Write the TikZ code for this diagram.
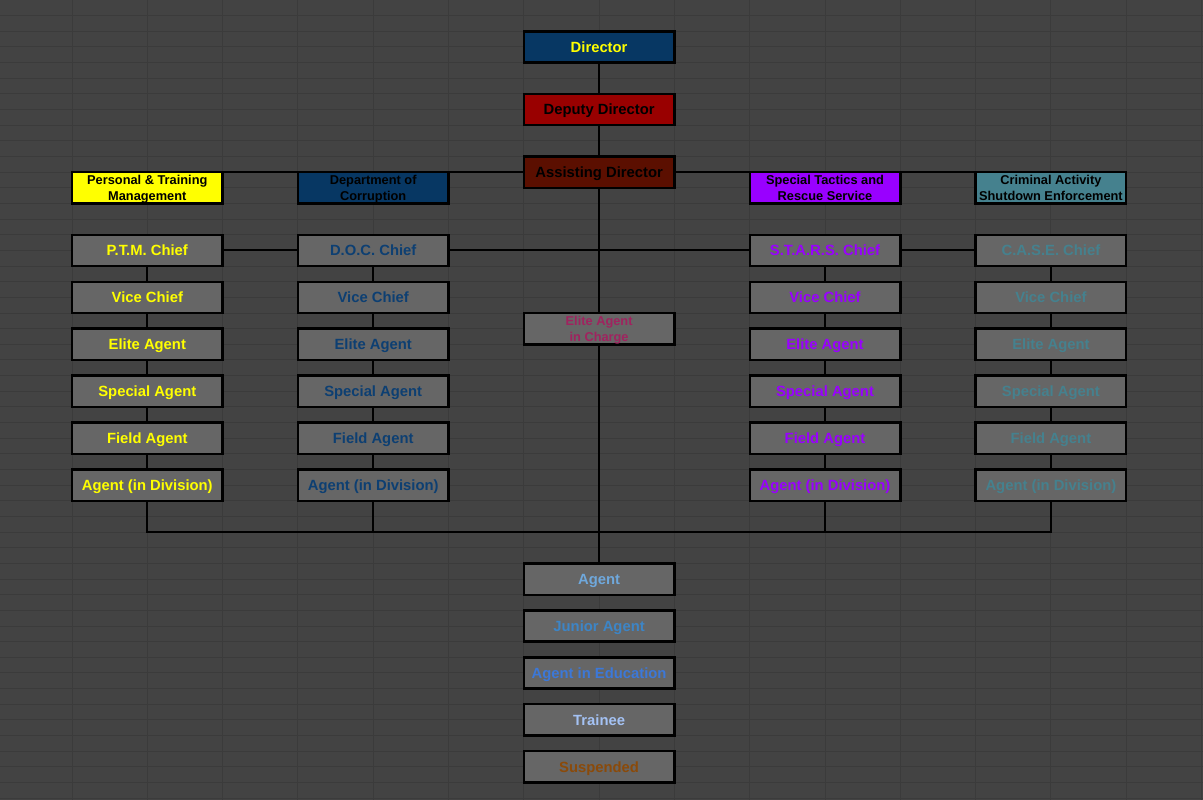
\documentclass[tikz,border=0pt]{standalone}
\usepackage{fontspec}
\setmainfont{Liberation Sans}
\definecolor{sheetbg}{HTML}{434343}
\definecolor{sheetline}{HTML}{3B3B3B}
\definecolor{rankgray}{HTML}{666666}
\definecolor{dirblue}{HTML}{073763}
\definecolor{deputyred}{HTML}{990000}
\definecolor{asstred}{HTML}{5B0F00}
\definecolor{ptmyellow}{HTML}{FFFF00}
\definecolor{docblue}{HTML}{0D3F72}
\definecolor{starspurple}{HTML}{9900FF}
\definecolor{caseteal}{HTML}{45818E}
\definecolor{eaictext}{HTML}{A0235F}
\definecolor{agenttext}{HTML}{6FA8DC}
\definecolor{juniortext}{HTML}{3D85C6}
\definecolor{edutext}{HTML}{3C78D8}
\definecolor{traineetext}{HTML}{A4C2F4}
\definecolor{suspendtext}{HTML}{8A4A0A}
\tikzset{
  rank/.style={draw=black, line width=2.4pt, fill=rankgray, minimum width=150.6pt,
    minimum height=31.3pt, inner sep=0pt, text height=10.6pt, text depth=0pt,
    font=\bfseries\fontsize{14.8}{16}\selectfont},
  unitbox/.style={rank, align=center, text height=25.6pt, text depth=0.6pt,
    font=\bfseries\fontsize{12.8}{15.6}\selectfont},
  link/.style={draw=black, line width=2pt}
}
\begin{document}
\begin{tikzpicture}[x=75.3pt, y=-15.65pt]
    \useasboundingbox (0.0438,0) rectangle (16.0199,51.118);
    \fill[sheetbg] (0.0438,0) rectangle (16.0199,51.118);
    \foreach \k in {1,...,16} \draw[sheetline, line width=1pt] (\k,0) -- (\k,51.118);
    \foreach \k in {1,...,51} \draw[sheetline, line width=1pt] (0.0438,\k) -- (16.0199,\k);

    \node[rank, fill=dirblue, text=ptmyellow] (dir) at (8,3) {Director};
    \node[rank, fill=deputyred, text=black] (deputy) at (8,7) {Deputy Director};
    \node[rank, fill=asstred, text=black] (asst) at (8,11) {Assisting Director};

    \node[unitbox, fill=ptmyellow, text=black] (ptm) at (2,12) {Personal \& Training\\Management};
    \node[unitbox, fill=dirblue, text=black] (doc) at (5,12) {Department of\\Corruption};
    \node[unitbox, fill=starspurple, text=black] (stars) at (11,12) {Special Tactics and\\Rescue Service};
    \node[unitbox, fill=caseteal, text=black] (case) at (14,12) {Criminal Activity\\Shutdown Enforcement};

    \foreach \c/\d/\chief/\tc in {2/ptm/P.T.M. Chief/ptmyellow, 5/doc/D.O.C. Chief/docblue,
        11/stars/S.T.A.R.S. Chief/starspurple, 14/case/C.A.S.E. Chief/caseteal}{
      \node[rank, text=\tc] (\d1) at (\c,16) {\chief};
      \foreach \txt [count=\i from 2] in {Vice Chief,Elite Agent,Special Agent,Field Agent,Agent (in Division)}
        \node[rank, text=\tc] (\d\i) at (\c,{13+3*\i}) {\txt};
      \foreach \i [evaluate=\i as \j using int(\i-1)] in {2,...,6}
        \draw[link] (\d\j) -- (\d\i);
    }

    \node[unitbox, text=eaictext] (eaic) at (8,21) {Elite Agent\\in Charge};
    \coordinate (hub) at (8,34);

    \node[rank, text=agenttext] (agent) at (8,37) {Agent};
    \node[rank, text=juniortext] (junior) at (8,40) {Junior Agent};
    \node[rank, text=edutext] (edu) at (8,43) {Agent in Education};
    \node[rank, text=traineetext] (trainee) at (8,46) {Trainee};
    \node[rank, text=suspendtext] (suspended) at (8,49) {Suspended};

    \draw[link] (dir) -- (deputy) -- (asst) -- (eaic) -- (hub) -- (agent);
    \draw[link] (ptm.east |- asst) -- (doc.west |- asst);
    \draw[link] (doc.east |- asst) -- (asst.west);
    \draw[link] (asst.east) -- (stars.west |- asst);
    \draw[link] (stars.east |- asst) -- (case.west |- asst);
    \draw[link] (ptm1) -- (doc1);
    \draw[link] (doc1) -- (stars1);
    \draw[link] (stars1) -- (case1);
    \draw[link] (ptm6.south) |- (hub) -| (case6.south);
    \draw[link] (doc6.south) |- (hub);
    \draw[link] (stars6.south) |- (hub);
\end{tikzpicture}
\end{document}
